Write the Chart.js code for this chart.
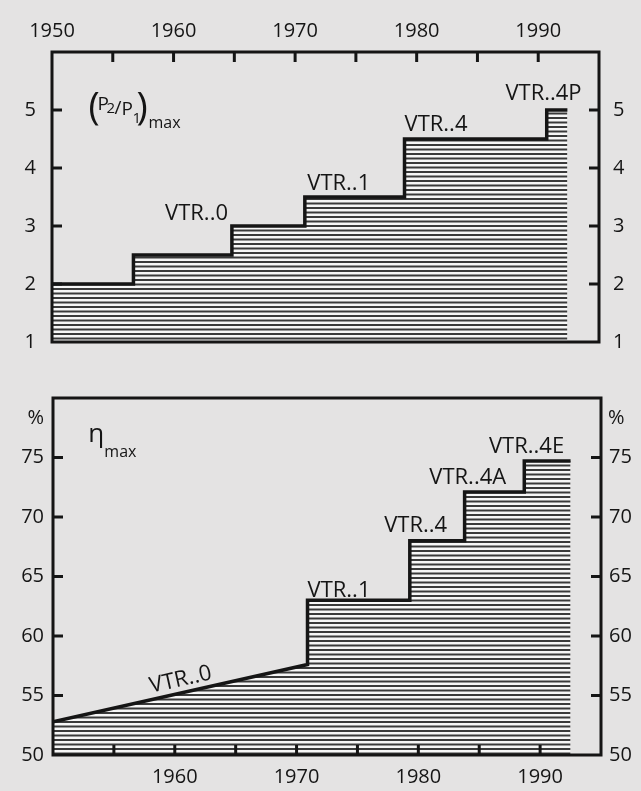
<!DOCTYPE html>
<html>
<head>
<meta charset="utf-8">
<script src="https://cdn.jsdelivr.net/npm/chart.js@4.4.1/dist/chart.umd.min.js"></script>
<style>
  html, body { margin: 0; padding: 0; background: #e4e3e3; }
  .wrap { position: relative; width: 641px; height: 791px; }
  #top { position: absolute; left: 0; top: 0; }
  #bottom { position: absolute; left: 0; top: 370px; }
</style>
</head>
<body>
<div class="wrap">
  <canvas id="top" width="641" height="370"></canvas>
  <canvas id="bottom" width="641" height="421"></canvas>
</div>
<script>
  // (P2/P1)max : year where each level starts, last entry = end of the line
  var ratioYears  = [1950, 1956.7, 1964.8, 1970.8, 1979.0, 1990.7, 1992.4];
  var ratioLevels = [2.0, 2.5, 3.0, 3.5, 4.5, 5.0, 5.0];

  // eta max (%) : sloped part first, then the steps
  var etaSlopeYears  = [1950, 1970.9];
  var etaSlopeValues = [52.8, 57.6];
  var etaStepYears   = [1970.9, 1979.3, 1983.8, 1988.7];
  var etaStepValues  = [63.0, 68.0, 72.1, 74.7];
  var etaEndYear     = 1992.5;

  // type labels
  var ratioNames = ['VTR..0', 'VTR..1', 'VTR..4', 'VTR..4P'];
  var etaNames   = ['VTR..0', 'VTR..1', 'VTR..4', 'VTR..4A', 'VTR..4E'];

  var ink = '#151515';
  var fontFamily = '"Open Sans", "Noto Sans", sans-serif';

  // horizontal hatching
  function hatch() {
    var c = document.createElement('canvas');
    c.width = 8; c.height = 9;
    var g = c.getContext('2d');
    g.fillStyle = '#f6f6f6';
    g.fillRect(0, 0, 8, 9);
    g.fillStyle = '#3a3a3a';
    g.fillRect(0, 0, 8, 2);
    g.fillRect(0, 4.5, 8, 2);
    return g.createPattern(c, 'repeat');
  }

  function ratioPoints() {
    var pts = [];
    for (var i = 0; i < ratioYears.length; i++) pts.push({ x: ratioYears[i], y: ratioLevels[i] });
    return pts;
  }

  function etaPoints() {
    var pts = [];
    for (var i = 0; i < etaSlopeYears.length; i++) pts.push({ x: etaSlopeYears[i], y: etaSlopeValues[i] });
    for (var j = 0; j < etaStepYears.length; j++) {
      var next = j + 1 < etaStepYears.length ? etaStepYears[j + 1] : etaEndYear;
      pts.push({ x: etaStepYears[j], y: etaStepValues[j] });
      pts.push({ x: next, y: etaStepValues[j] });
    }
    return pts;
  }

  // frame + ticks pointing into the plot
  var frameTicks = {
    id: 'frameTicks',
    afterDraw: function(chart) {
      var ctx = chart.ctx, a = chart.chartArea, len = 10;
      ctx.save();
      ctx.strokeStyle = ink;
      ctx.lineWidth = 3;
      ['x', 'y', 'y2'].forEach(function(id) {
        var s = chart.scales[id];
        s.ticks.forEach(function(t) {
          if (t.value <= s.min || t.value >= s.max) return;
          var p = s.getPixelForValue(t.value);
          ctx.beginPath();
          if (s.position === 'top') { ctx.moveTo(p, a.top); ctx.lineTo(p, a.top + len); }
          else if (s.position === 'bottom') { ctx.moveTo(p, a.bottom); ctx.lineTo(p, a.bottom - len); }
          else if (s.position === 'left') { ctx.moveTo(a.left, p); ctx.lineTo(a.left + len, p); }
          else { ctx.moveTo(a.right, p); ctx.lineTo(a.right - len, p); }
          ctx.stroke();
        });
      });
      ctx.strokeRect(a.left, a.top, a.right - a.left, a.bottom - a.top);
      ctx.restore();
    }
  };

  // free text placed in data coordinates
  var notes = {
    id: 'notes',
    afterDraw: function(chart, args, opts) {
      var ctx = chart.ctx, xs = chart.scales.x, ys = chart.scales.y;
      ctx.save();
      ctx.fillStyle = ink;
      (opts.items || []).forEach(function(n) {
        var px = n.px !== undefined ? n.px : xs.getPixelForValue(n.x);
        var py = ys.getPixelForValue(n.y);
        ctx.save();
        ctx.translate(px, py);
        if (n.along) {
          var d = chart.data.datasets[0].data;
          var x0 = xs.getPixelForValue(d[0].x), y0 = ys.getPixelForValue(d[0].y);
          var x1 = xs.getPixelForValue(d[1].x), y1 = ys.getPixelForValue(d[1].y);
          ctx.rotate(Math.atan2(y1 - y0, x1 - x0));
        }
        (n.runs || [{ t: n.text, dx: 0, dy: 0, size: n.size || 22 }]).forEach(function(r) {
          ctx.font = (r.size || 22) + 'px ' + fontFamily;
          ctx.textAlign = n.align || 'left';
          ctx.textBaseline = n.baseline || 'alphabetic';
          ctx.fillText(r.t, r.dx, r.dy);
        });
        ctx.restore();
      });
      ctx.restore();
    }
  };

  var tickFont = { family: fontFamily, size: 20 };

  // top panel
  new Chart(document.getElementById('top'), {
    type: 'line',
    data: {
      datasets: [{
        data: ratioPoints(),
        stepped: 'before',
        borderColor: ink,
        borderWidth: 3.5,
        pointRadius: 0,
        fill: 'start',
        backgroundColor: hatch()
      }]
    },
    options: {
      responsive: false,
      animation: false,
      devicePixelRatio: 1,
      layout: { padding: { top: 0, bottom: 13, left: 0, right: 0 } },
      plugins: {
        legend: { display: false },
        tooltip: { enabled: false },
        notes: {
          items: [
            { text: ratioNames[0], x: 1959.3, y: 3.11 },
            { text: ratioNames[1], x: 1971.0, y: 3.62 },
            { text: ratioNames[2], x: 1979.0, y: 4.64 },
            { text: ratioNames[3], x: 1987.3, y: 5.18 },
            { x: 1953.0, y: 5.0, runs: [
              { t: '(', dx: 0, dy: 10, size: 38 },
              { t: 'P', dx: 9, dy: 0, size: 19 },
              { t: '2', dx: 18, dy: 3, size: 15 },
              { t: '/', dx: 26, dy: 4, size: 19 },
              { t: 'P', dx: 33, dy: 5, size: 19 },
              { t: '1', dx: 44, dy: 13, size: 15 },
              { t: ')', dx: 48, dy: 10, size: 38 },
              { t: 'max', dx: 60, dy: 18, size: 16 }
            ] }
          ]
        }
      },
      scales: {
        x: {
          type: 'linear', position: 'top', min: 1950, max: 1995,
          grid: { display: false, drawTicks: false },
          border: { display: false },
          ticks: {
            stepSize: 5, autoSkip: false, maxRotation: 0, padding: 9,
            color: ink, font: tickFont,
            callback: function(v) { return v % 10 === 0 && v < 1995 ? String(v) : ''; }
          },
          afterFit: function(s) { s.height = 52; }
        },
        y: {
          position: 'left', min: 1, max: 6,
          grid: { display: false, drawTicks: false },
          border: { display: false },
          ticks: {
            stepSize: 1, padding: 16, color: ink, font: tickFont,
            callback: function(v) { return v < 6 ? String(v) : ''; }
          },
          afterFit: function(s) { s.width = 52; }
        },
        y2: {
          position: 'right', min: 1, max: 6,
          grid: { display: false, drawTicks: false },
          border: { display: false },
          ticks: {
            stepSize: 1, padding: 14, color: ink, font: tickFont,
            callback: function(v) { return v < 6 ? String(v) : ''; }
          },
          afterFit: function(s) { s.width = 42; }
        }
      }
    },
    plugins: [frameTicks, notes]
  });

  // bottom panel
  new Chart(document.getElementById('bottom'), {
    type: 'line',
    data: {
      datasets: [{
        data: etaPoints(),
        borderColor: ink,
        borderWidth: 3.5,
        pointRadius: 0,
        tension: 0,
        fill: 'start',
        backgroundColor: hatch()
      }]
    },
    options: {
      responsive: false,
      animation: false,
      devicePixelRatio: 1,
      layout: { padding: { top: 28, bottom: 0, left: 0, right: 0 } },
      plugins: {
        legend: { display: false },
        tooltip: { enabled: false },
        notes: {
          items: [
            { text: etaNames[0], x: 1960.6, y: 55.8, align: 'center', along: true },
            { text: etaNames[1], x: 1970.9, y: 63.3 },
            { text: etaNames[2], x: 1977.2, y: 68.7 },
            { text: etaNames[3], x: 1980.9, y: 72.8 },
            { text: etaNames[4], x: 1985.8, y: 75.4 },
            { text: '%', px: 44, y: 78.3, align: 'right', baseline: 'middle', size: 20 },
            { text: '%', px: 608, y: 78.3, align: 'left', baseline: 'middle', size: 20 },
            { x: 1952.9, y: 76.3, runs: [
              { t: '\u03b7', dx: 0, dy: 0, size: 26 },
              { t: 'max', dx: 16, dy: 15, size: 16 }
            ] }
          ]
        }
      },
      scales: {
        x: {
          type: 'linear', position: 'bottom', min: 1950, max: 1995,
          grid: { display: false, drawTicks: false },
          border: { display: false },
          ticks: {
            stepSize: 5, autoSkip: false, maxRotation: 0, padding: 10,
            color: ink, font: tickFont,
            callback: function(v) { return v % 10 === 0 && v > 1950 && v < 1995 ? String(v) : ''; }
          },
          afterFit: function(s) { s.height = 36; }
        },
        y: {
          position: 'left', min: 50, max: 80,
          grid: { display: false, drawTicks: false },
          border: { display: false },
          ticks: {
            stepSize: 5, padding: 9, color: ink, font: tickFont,
            callback: function(v) { return v < 80 ? String(v) : ''; }
          },
          afterFit: function(s) { s.width = 53; }
        },
        y2: {
          position: 'right', min: 50, max: 80,
          grid: { display: false, drawTicks: false },
          border: { display: false },
          ticks: {
            stepSize: 5, padding: 8, color: ink, font: tickFont,
            callback: function(v) { return v < 80 ? String(v) : ''; }
          },
          afterFit: function(s) { s.width = 40; }
        }
      }
    },
    plugins: [frameTicks, notes]
  });
</script>
</body>
</html>
